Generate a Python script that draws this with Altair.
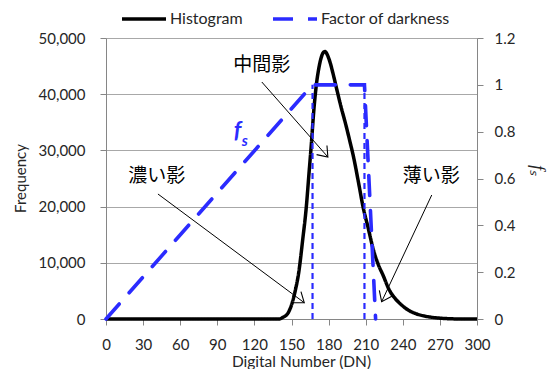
import math
import altair as alt
import pandas as pd

# ---------------- data ----------------
hist_dn = [0, 140, 143, 147, 150, 153, 156, 159, 162, 164, 166, 168, 170, 172, 174, 176, 177, 179, 181, 184,
           187, 190, 194, 197, 200, 204, 208, 212, 216, 220, 224, 229, 234, 239, 245, 250, 256, 262, 270, 280,
           288, 300]
hist_freq = [0, 0, 300, 1000, 2500, 5000, 8500, 14000, 20000, 25500, 31000, 37000, 41500, 44500, 46500, 47500,
             47600, 47000, 45800, 43300, 40500, 37800, 34500, 31800, 29000, 24500, 19800, 16200, 12500, 9800,
             7800, 5200, 3600, 2500, 1500, 1000, 600, 350, 150, 30, 0, 0]

fs_dn = [0, 167, 209, 218]
fs_val = [0, 1, 1, 0]

bound_dn = [167, 209]

series_names = ["Histogram", "Factor of darkness"]

labels_text = ["中間影", "濃い影", "薄い影"]
labels_dn = [126, 41, 263]
labels_freq = [45200, 25450, 25450]

arrow_x1 = [126, 42, 263.4]
arrow_y1 = [42170, 22240, 22060]
arrow_x2 = [179.4, 160.3, 222.9]
arrow_y2 = [28830, 2900, 3080]

x_ticks = list(range(0, 301, 30))
y_ticks = list(range(0, 50001, 10000))
f_ticks = [0, 0.2, 0.4, 0.6, 0.8, 1.0, 1.2]

# ---------------- frames ----------------
W, H = 371, 281
XMAX, YMAX, FMAX = 300, 50000, 1.2

hist_df = pd.DataFrame({"dn": hist_dn, "freq": hist_freq, "series": series_names[0]})
fs_df = pd.DataFrame({"dn": fs_dn, "fs": fs_val, "series": series_names[1]})
bound_df = pd.DataFrame({"dn": bound_dn, "lo": [0] * len(bound_dn), "hi": [1] * len(bound_dn)})
lab_df = pd.DataFrame({"dn": labels_dn, "freq": labels_freq, "t": labels_text})

angles = []
for a, b, c, d in zip(arrow_x1, arrow_y1, arrow_x2, arrow_y2):
    dx = (c - a) * W / XMAX
    dy = -(d - b) * H / YMAX
    angles.append(math.degrees(math.atan2(dy, dx)) % 360)
arr_df = pd.DataFrame({"x1": arrow_x1, "y1": arrow_y1, "x2": arrow_x2, "y2": arrow_y2, "ang": angles})

BLUE = "#2b2bff"
FONT = "Lato"
TXT = "#262626"
AX = "#868686"

xscale = alt.Scale(domain=[0, XMAX], nice=False, zero=False)
yscale = alt.Scale(domain=[0, YMAX], nice=False)
fscale = alt.Scale(domain=[0, FMAX], nice=False)

color_scale = alt.Scale(domain=series_names, range=["black", BLUE])
dash_scale = alt.Scale(domain=series_names, range=[[1, 0], [20, 15]])

legend = alt.Legend(orient="none", legendX=14, legendY=-43, direction="horizontal", title=None,
                    symbolType="stroke", symbolSize=1936, symbolStrokeWidth=3.5,
                    labelFont=FONT, labelFontSize=16, labelColor=TXT, labelOffset=2,
                    columnPadding=23)

x_axis = alt.Axis(values=x_ticks, format="d", title="Digital Number (DN)", grid=False, tickSize=6,
                  labelPadding=12, domainColor=AX, tickColor=AX, labelFont=FONT, labelFontSize=15,
                  labelColor=TXT, titleFont=FONT, titleFontSize=15.5, titleFontWeight="normal",
                  titleColor=TXT, titleX=195, titleY=42, titleBaseline="middle", titleAlign="center",
                  labelFlush=False)

y_axis = alt.Axis(values=y_ticks, labelExpr="format(datum.value, ',')", title="Frequency", grid=True,
                  gridColor="#a8a8a8", tickSize=6, labelPadding=15, domainColor=AX, tickColor=AX,
                  labelFont=FONT, labelFontSize=15, labelColor=TXT, titleFont=FONT, titleFontSize=15,
                  titleFontWeight="normal", titleColor=TXT, titleX=-86, titleY=140,
                  titleBaseline="middle", titleAlign="center")

f_axis = alt.Axis(values=f_ticks, orient="right", labelExpr="format(datum.value, '~g')", title="fₛ",
                  grid=False, tickSize=6, labelPadding=11, domainColor=AX, tickColor=AX,
                  labelFont=FONT, labelFontSize=15, labelColor=TXT, titleFont="Liberation Serif",
                  titleFontStyle="italic", titleFontSize=18, titleFontWeight="normal", titleColor=TXT,
                  titleX=59, titleY=132, titleBaseline="middle", titleAlign="center", titleAngle=90)


def X(field):
    return alt.X(field, scale=xscale, axis=x_axis)


hist_line = alt.Chart(hist_df).mark_line(strokeWidth=3.5, interpolate="monotone").encode(
    x=X("dn:Q"),
    y=alt.Y("freq:Q", scale=yscale, axis=y_axis),
    color=alt.Color("series:N", scale=color_scale, legend=legend),
    strokeDash=alt.StrokeDash("series:N", scale=dash_scale, legend=legend),
)

fs_line = alt.Chart(fs_df).mark_line(strokeWidth=3.6, strokeCap="round").encode(
    x=X("dn:Q"),
    y=alt.Y("fs:Q", scale=fscale, axis=f_axis),
    color=alt.Color("series:N", scale=color_scale, legend=legend),
    strokeDash=alt.StrokeDash("series:N", scale=dash_scale, legend=legend),
)

bounds = alt.Chart(bound_df).mark_rule(color=BLUE, strokeWidth=2.2, strokeDash=[6, 4]).encode(
    x=X("dn:Q"),
    y=alt.Y("lo:Q", scale=fscale, axis=None),
    y2="hi:Q",
)

arrows = alt.Chart(arr_df).mark_rule(color="black", strokeWidth=1).encode(
    x=X("x1:Q"),
    y=alt.Y("y1:Q", scale=yscale, axis=None),
    x2="x2:Q",
    y2="y2:Q",
)

heads = alt.Chart(arr_df).mark_point(shape="M -1 -0.75 L 0 0 L -1 0.75", filled=False, color="black",
                                     strokeWidth=1.1, size=340, opacity=1).encode(
    x=X("x2:Q"),
    y=alt.Y("y2:Q", scale=yscale, axis=None),
    angle=alt.Angle("ang:Q", scale=None),
)

labels = alt.Chart(lab_df).mark_text(font="Noto Sans CJK JP", fontSize=19, color="black").encode(
    x=X("dn:Q"),
    y=alt.Y("freq:Q", scale=yscale, axis=None),
    text="t:N",
)

f_label = alt.Chart(pd.DataFrame({"dn": [106.4], "freq": [33450], "t": ["f"]})).mark_text(
    font="Lato", fontSize=23, fontStyle="italic", fontWeight="bold", color=BLUE).encode(
    x=X("dn:Q"),
    y=alt.Y("freq:Q", scale=yscale, axis=None),
    text="t:N",
)
s_label = alt.Chart(pd.DataFrame({"dn": [112.2], "freq": [31700], "t": ["s"]})).mark_text(
    font="Lato", fontSize=15, fontStyle="italic", fontWeight="bold", color=BLUE).encode(
    x=X("dn:Q"),
    y=alt.Y("freq:Q", scale=yscale, axis=None),
    text="t:N",
)

chart = alt.layer(
    hist_line, fs_line, bounds, arrows, heads, labels, f_label, s_label
).resolve_scale(y="independent").properties(
    width=W, height=H,
    autosize=alt.AutoSizeParams(type="none"),
    padding={"left": 98, "top": 30, "right": 72, "bottom": 50},
).configure_view(stroke=None).configure(background="white")

chart.save("out.html", embed_options={"renderer": "svg", "actions": False})
